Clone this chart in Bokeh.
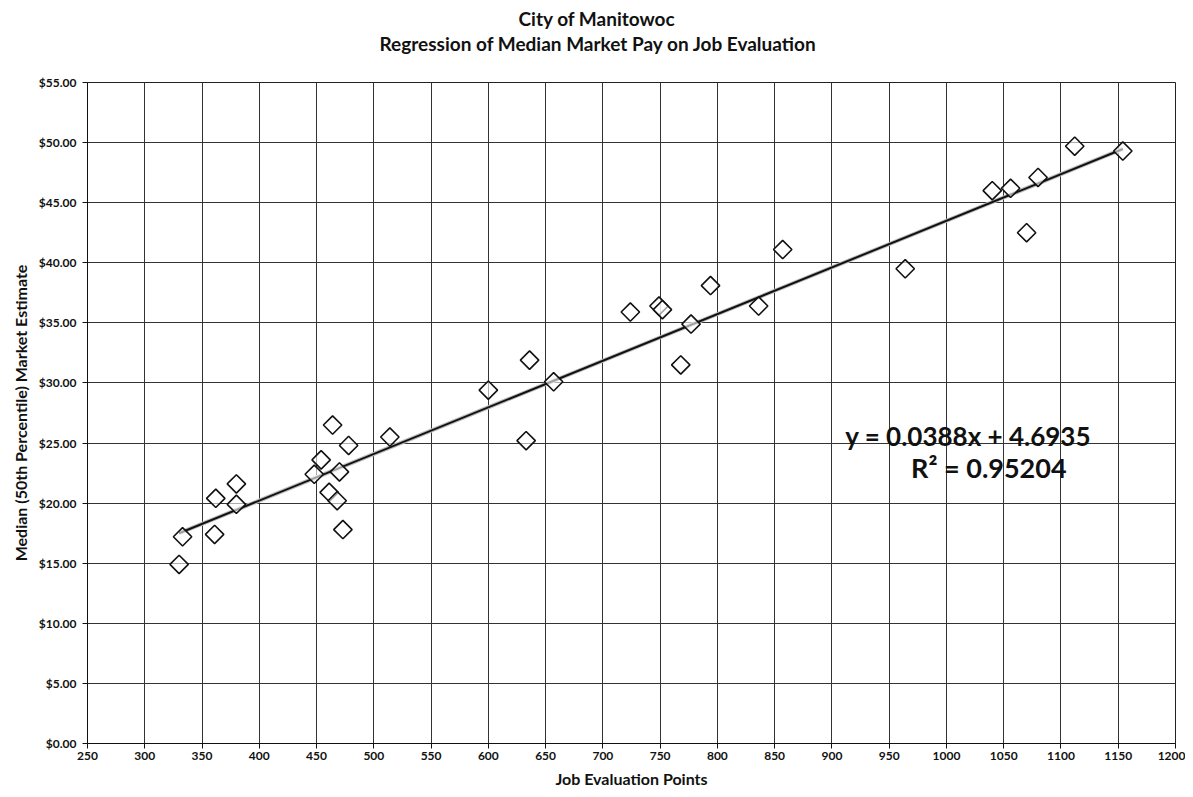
from bokeh.plotting import figure
from bokeh.models import (Range1d, SingleIntervalTicker, NumeralTickFormatter,
                          Label, Title, ColumnDataSource)
from bokeh.embed import file_html
from bokeh.resources import INLINE

# ---- data ----
job_points = [330, 333, 362, 361, 380, 380, 448, 454, 464, 461, 468, 470, 473, 478,
              514, 600, 633, 636, 657, 724, 749, 752, 768, 777, 794, 836, 857,
              964, 1040, 1056, 1070, 1080, 1112, 1154]
market_pay = [14.9, 17.2, 20.4, 17.4, 21.6, 19.9, 22.4, 23.6, 26.5, 20.9, 20.2, 22.6,
              17.8, 24.8, 25.5, 29.4, 25.2, 31.9, 30.1, 35.9, 36.4, 36.1, 31.5, 34.9,
              38.1, 36.4, 41.1, 39.5, 46.0, 46.2, 42.5, 47.1, 49.7, 49.3]
slope = 0.0388
intercept = 4.6935
r_squared = 0.95204
title_lines = ["City of Manitowoc", "Regression of Median Market Pay on Job Evaluation"]
x_ticks_interval = 50
y_ticks_interval = 5

FONT = "Lato"

p = figure(width=1185, height=790, output_backend="svg", toolbar_location=None,
           x_range=Range1d(250, 1200), y_range=Range1d(0, 55),
           min_border_left=87, min_border_right=10, min_border_top=82,
           min_border_bottom=47)
p.outline_line_color = "#222222"
p.outline_line_width = 1

# titles: blank spacer next to the frame, then the two title lines
p.add_layout(Title(text=" ", text_font_size="13px", standoff=11), "above")
p.add_layout(Title(text=title_lines[1], align="left", offset=292,
                   text_font=FONT, text_font_size="19px", text_font_style="bold",
                   text_color="#111111", standoff=0), "above")
p.add_layout(Title(text=title_lines[0], align="left", offset=431,
                   text_font=FONT, text_font_size="19px", text_font_style="bold",
                   text_color="#111111", standoff=0), "above")

# grid
p.xaxis.ticker = SingleIntervalTicker(interval=x_ticks_interval)
p.yaxis.ticker = SingleIntervalTicker(interval=y_ticks_interval)
for g in (p.xgrid, p.ygrid):
    g.grid_line_color = "#333333"
    g.grid_line_width = 1
    g.grid_line_alpha = 1

# axes
p.yaxis.formatter = NumeralTickFormatter(format="$0.00")
for ax in (p.xaxis, p.yaxis):
    ax.axis_line_color = "#111111"
    ax.major_tick_line_color = "#111111"
    ax.major_tick_out = 5
    ax.major_tick_in = 0
    ax.minor_tick_line_color = None
    ax.major_label_text_font = FONT
    ax.major_label_text_font_style = "bold"
    ax.major_label_text_font_size = "12px"
    ax.major_label_text_color = "#111111"
    ax.axis_label_text_font = FONT
    ax.axis_label_text_font_style = "bold"
    ax.axis_label_text_color = "#111111"
p.xaxis.major_label_standoff = 3
p.yaxis.major_label_standoff = 6
p.xaxis.axis_label = "Job Evaluation Points"
p.xaxis.axis_label_text_font_size = "16px"
p.xaxis.axis_label_standoff = 6
p.yaxis.axis_label = "Median (50th Percentile) Market Estimate"
p.yaxis.axis_label_text_font_size = "16px"
p.yaxis.axis_label_standoff = 6

# regression line from min to max x
x0, x1 = min(job_points), max(job_points)
line_src = ColumnDataSource(dict(x=[x0, x1], y=[slope * x0 + intercept, slope * x1 + intercept]))
p.line("x", "y", source=line_src, line_color="#bbbbbb", line_width=4)
p.line("x", "y", source=line_src, line_color="#111111", line_width=2)

# scatter diamonds
src = ColumnDataSource(dict(x=job_points, y=market_pay))
p.scatter("x", "y", source=src, marker="square", angle=0.785398, size=13,
          fill_color="white", fill_alpha=0.6, line_color="#111111", line_width=1.6)

# equation labels
p.add_layout(Label(x=1019, y=25.6, text=f"y = {slope}x + {intercept}",
                   text_font=FONT, text_font_style="bold", text_font_size="26px",
                   text_align="center", text_baseline="middle", text_color="#111111"))
p.add_layout(Label(x=1037, y=23.0, text=f"R\u00b2 = {r_squared}",
                   text_font=FONT, text_font_style="bold", text_font_size="27px",
                   text_align="center", text_baseline="middle", text_color="#111111"))

open("out.html", "w").write(file_html(p, INLINE))
